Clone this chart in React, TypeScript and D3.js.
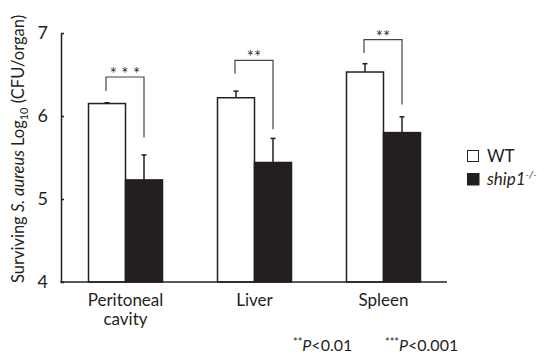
import React, { useEffect, useRef } from 'react';
import * as d3 from 'd3';

// data
const categories = ['Peritoneal cavity', 'Liver', 'Spleen'];
const seriesNames = ['WT', 'ship1'];
const wtMeans = [6.15, 6.22, 6.53];
const wtErr = [0.01, 0.08, 0.1];
const koMeans = [5.23, 5.44, 5.8];
const koErr = [0.3, 0.29, 0.19];
const yTicks = [4, 5, 6, 7];
// significance brackets: top, left leg bottom, right leg bottom (in axis units)
const bracketTop = [6.47, 6.67, 6.92];
const bracketLeft = [6.3, 6.51, 6.76];
const bracketRight = [5.74, 5.84, 6.14];
const stars = ['* * *', '**', '**'];

const INK = '#231f20';
const FONT = 'Lato, "Open Sans", sans-serif';

const App: React.FC = () => {
  const ref = useRef<SVGSVGElement>(null);

  useEffect(() => {
    const { current: node } = ref;
    if (!node) return;
    const svg = d3.select(node);
    svg.selectAll('*').remove();

    const x0 = d3.scaleBand<string>().domain(categories).range([61, 448]).padding(0);
    const bw = x0.bandwidth();
    const x1 = d3
      .scaleBand<string>()
      .domain(seriesNames)
      .range([bw / 2 - 37, bw / 2 + 37])
      .padding(0);
    const y = d3.scaleLinear().domain([4, 7]).range([282, 33]);

    const rows = categories.map((c, i) => ({
      c,
      bars: [
        { s: 'WT', v: wtMeans[i], e: wtErr[i], fill: '#ffffff' },
        { s: 'ship1', v: koMeans[i], e: koErr[i], fill: INK },
      ],
    }));

    const g = svg
      .selectAll('g.grp')
      .data(rows)
      .enter()
      .append('g')
      .attr('class', 'grp')
      .attr('transform', (d) => `translate(${x0(d.c)},0)`);

    // error bars (upper only)
    g.selectAll('g.err')
      .data((d) => d.bars)
      .enter()
      .append('g')
      .attr('class', 'err')
      .each(function (d) {
        const cx = x1(d.s)! + x1.bandwidth() / 2;
        const sel = d3.select(this);
        sel
          .append('line')
          .attr('x1', cx)
          .attr('x2', cx)
          .attr('y1', y(d.v))
          .attr('y2', y(d.v + d.e))
          .attr('stroke', INK)
          .attr('stroke-width', 1.5);
        sel
          .append('line')
          .attr('x1', cx - 2.5)
          .attr('x2', cx + 2.5)
          .attr('y1', y(d.v + d.e))
          .attr('y2', y(d.v + d.e))
          .attr('stroke', INK)
          .attr('stroke-width', 1.5);
      });

    g.selectAll('rect')
      .data((d) => d.bars)
      .enter()
      .append('rect')
      .attr('x', (d) => x1(d.s)!)
      .attr('width', x1.bandwidth())
      .attr('y', (d) => y(d.v))
      .attr('height', (d) => y(4) - y(d.v))
      .attr('fill', (d) => d.fill)
      .attr('stroke', INK)
      .attr('stroke-width', 1.5);

    // brackets
    categories.forEach((c, i) => {
      const lx = x0(c)! + x1('WT')! + x1.bandwidth() / 2 - 1;
      const rx = x0(c)! + x1('ship1')! + x1.bandwidth() / 2;
      const path = d3.path();
      path.moveTo(lx, y(bracketLeft[i]));
      path.lineTo(lx, y(bracketTop[i]));
      path.lineTo(rx, y(bracketTop[i]));
      path.lineTo(rx, y(bracketRight[i]));
      svg
        .append('path')
        .attr('d', path.toString())
        .attr('fill', 'none')
        .attr('stroke', '#444')
        .attr('stroke-width', 1.2);
      svg
        .append('text')
        .attr('x', (lx + rx) / 2)
        .attr('y', y(bracketTop[i]) + 3)
        .attr('text-anchor', 'middle')
        .attr('font-family', FONT)
        .attr('font-size', 17)
        .attr('fill', '#333')
        .text(stars[i]);
    });

    // axes
    const yAxis = d3
      .axisLeft(y)
      .tickValues(yTicks)
      .tickFormat(d3.format('d'))
      .tickSizeInner(-3)
      .tickSizeOuter(0)
      .tickPadding(13);
    const ya = svg.append('g').attr('transform', 'translate(61,0)').call(yAxis);
    ya.select('.domain').attr('stroke', INK).attr('stroke-width', 1.5);
    ya.selectAll('.tick line').attr('stroke', INK).attr('stroke-width', 1.5);
    ya.selectAll('.tick text')
      .attr('font-family', FONT)
      .attr('font-size', 18)
      .attr('fill', INK);

    svg
      .append('line')
      .attr('x1', 60.25)
      .attr('x2', 447)
      .attr('y1', y(4))
      .attr('y2', y(4))
      .attr('stroke', INK)
      .attr('stroke-width', 1.5);

    // category labels
    categories.forEach((c) => {
      const parts = c === 'Peritoneal cavity' ? ['Peritoneal', 'cavity'] : [c];
      const t = svg
        .append('text')
        .attr('x', x0(c)! + bw / 2)
        .attr('y', 306)
        .attr('text-anchor', 'middle')
        .attr('font-family', FONT)
        .attr('font-size', 17)
        .attr('fill', INK);
      parts.forEach((p, k) => {
        t.append('tspan')
          .attr('x', x0(c)! + bw / 2)
          .attr('dy', k === 0 ? 0 : 19)
          .text(p);
      });
    });

    // y title
    const yt = svg
      .append('text')
      .attr('transform', 'translate(24,149) rotate(-90)')
      .attr('text-anchor', 'middle')
      .attr('font-family', FONT)
      .attr('font-size', 16.5)
      .attr('fill', INK);
    yt.append('tspan').text('Surviving ');
    yt.append('tspan').attr('font-style', 'italic').text('S. aureus');
    yt.append('tspan').text(' Log');
    yt.append('tspan').attr('font-size', 11).attr('dy', 4).text('10');
    yt.append('tspan').attr('dy', -4).text(' (CFU/organ)');

    // legend
    const leg = svg.append('g').attr('font-family', FONT).attr('font-size', 17).attr('fill', INK);
    leg
      .append('rect')
      .attr('x', 467.5)
      .attr('y', 150.5)
      .attr('width', 11)
      .attr('height', 11)
      .attr('fill', '#fff')
      .attr('stroke', INK)
      .attr('stroke-width', 1);
    leg.append('text').attr('x', 487).attr('y', 162).text('WT');
    leg
      .append('rect')
      .attr('x', 467)
      .attr('y', 173)
      .attr('width', 12.5)
      .attr('height', 12.5)
      .attr('fill', INK);
    const lt = leg.append('text').attr('x', 487).attr('y', 185);
    lt.append('tspan').attr('font-style', 'italic').text('ship1');
    lt.append('tspan').attr('font-style', 'italic').attr('font-size', 10).attr('dy', -7).text('-/-');

    // footnote
    const fn = svg.append('g').attr('font-family', FONT).attr('font-size', 16).attr('fill', INK);
    const f1 = fn.append('text').attr('x', 293).attr('y', 351);
    f1.append('tspan').attr('font-size', 11).attr('dy', -5).text('**');
    f1.append('tspan').attr('dy', 5).attr('font-style', 'italic').text('P');
    f1.append('tspan').text('<0.01');
    const f2 = fn.append('text').attr('x', 385).attr('y', 351);
    f2.append('tspan').attr('font-size', 11).attr('dy', -5).text('***');
    f2.append('tspan').attr('dy', 5).attr('font-style', 'italic').text('P');
    f2.append('tspan').text('<0.001');
  }, []);

  return (
    <svg
      ref={ref}
      width={552}
      height={356}
      style={{ position: 'absolute', left: 0, top: 0, background: '#fff' }}
    />
  );
};

export default App;
